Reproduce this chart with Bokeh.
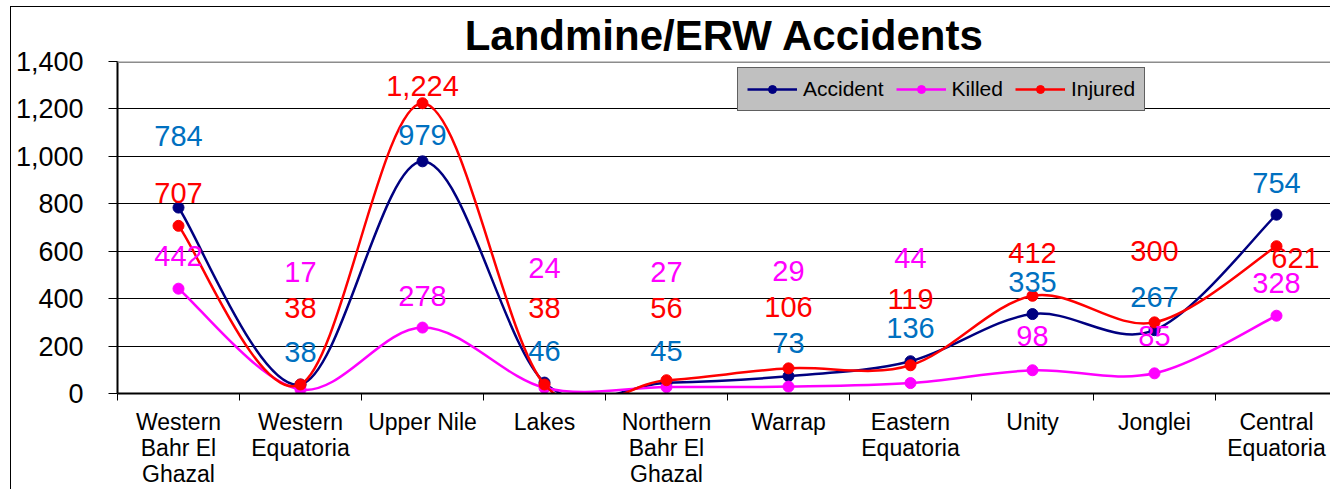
from bokeh.plotting import figure
from bokeh.models import (ColumnDataSource, Range1d, FixedTicker, Span, Legend,
                          LegendItem, NumeralTickFormatter)
from bokeh.embed import file_html
from bokeh.resources import INLINE
from bokeh.core.properties import value

# ---------------- data ----------------
categories = ["Western\nBahr El\nGhazal", "Western\nEquatoria", "Upper Nile", "Lakes",
              "Northern\nBahr El\nGhazal", "Warrap", "Eastern\nEquatoria", "Unity",
              "Jonglei", "Central\nEquatoria"]
accident = [784, 38, 979, 46, 45, 73, 136, 335, 267, 754]
killed = [442, 17, 278, 24, 27, 29, 44, 98, 85, 328]
injured = [707, 38, 1224, 38, 56, 106, 119, 412, 300, 621]
y_ticks = [0, 200, 400, 600, 800, 1000, 1200, 1400]

# label placement (screen px offsets from each point, style only)
acc_label_dy = [-72, -32, -26, -32, -32, -33, -33, -32, -33, -32]
kil_label_dy = [-33, -117, -32, -120, -115, -116, -125, -34, -37, -33]
inj_label_dy = [-33, -76, -17, -76, -72, -61, -66, -43, -71, 12]
inj_label_dx = [0, 0, 0, 0, 0, 0, 0, 0, 0, 19]

FONT = "Liberation Sans"
W, H = 1320, 483
LEFT, TOP, BOTTOM = 106, 54, 97
CAT_PX = 122.0
n = len(categories)
xs = list(range(1, n + 1))


def bezier_source(vals):
    d = dict(x0=[], y0=[], x1=[], y1=[], cx0=[], cy0=[], cx1=[], cy1=[])
    for i in range(n - 1):
        ip = max(i - 1, 0)
        i2 = min(i + 2, n - 1)
        d["x0"].append(xs[i]); d["y0"].append(vals[i])
        d["x1"].append(xs[i + 1]); d["y1"].append(vals[i + 1])
        d["cx0"].append(xs[i] + (xs[i + 1] - xs[ip]) / 6.0)
        d["cy0"].append(vals[i] + (vals[i + 1] - vals[ip]) / 6.0)
        d["cx1"].append(xs[i + 1] - (xs[i2] - xs[i]) / 6.0)
        d["cy1"].append(vals[i + 1] - (vals[i2] - vals[i]) / 6.0)
    return ColumnDataSource(d)


frame_w = W - LEFT
p = figure(width=W, height=H, output_backend="svg", toolbar_location=None,
           x_range=Range1d(0.5, 0.5 + frame_w / CAT_PX), y_range=Range1d(0, 1400),
           min_border_left=LEFT, min_border_top=TOP, min_border_bottom=BOTTOM,
           min_border_right=0)
p.styles = {"margin-left": "10px", "margin-top": "6px",
            "border-left": "1px solid #000000", "border-top": "1px solid #000000"}
p.outline_line_color = None
p.background_fill_color = "white"
p.border_fill_color = "white"

# title
p.title.text = "Landmine/ERW Accidents"
p.title.text_font = FONT
p.title.text_font_size = "42px"
p.title.text_font_style = "bold"
p.title.text_color = "black"
p.title.align = "center"
p.title.offset = 4
p.title.standoff = 5

# grid
p.xgrid.visible = False
p.ygrid.ticker = FixedTicker(ticks=y_ticks[1:-1])
p.ygrid.grid_line_color = "black"
p.ygrid.grid_line_width = 1
p.add_layout(Span(location=1400, dimension="width", line_color="#8c8c8c", line_width=3))

# x axis
xa = p.xaxis[0]
xa.ticker = FixedTicker(ticks=xs, minor_ticks=[x - 0.5 for x in xs] + [xs[-1] + 0.5])
xa.major_label_overrides = {x: c for x, c in zip(xs, categories)}
xa.major_tick_out = 0
xa.major_tick_in = 0
xa.minor_tick_out = 7
xa.minor_tick_in = 0
xa.minor_tick_line_color = "black"
xa.minor_tick_line_width = 1
xa.axis_line_color = "black"
xa.axis_line_width = 2
xa.major_label_text_font = FONT
xa.major_label_text_font_size = "23px"
xa.major_label_text_line_height = 1.0
xa.major_label_text_color = "black"
xa.major_label_standoff = 8

# y axis
ya = p.yaxis[0]
ya.ticker = FixedTicker(ticks=y_ticks)
ya.formatter = NumeralTickFormatter(format="0,0")
ya.major_tick_out = 9
ya.major_tick_in = 0
ya.minor_tick_out = 0
ya.minor_tick_in = 0
ya.major_tick_line_color = "black"
ya.axis_line_color = "black"
ya.axis_line_width = 2
ya.major_label_text_font = FONT
ya.major_label_text_font_size = "27px"
ya.major_label_text_color = "black"
ya.major_label_standoff = 25

series = [
    ("Accident", accident, "#000080", "#0070C0", acc_label_dy, [0] * n),
    ("Killed", killed, "#FF00FF", "#FF00FF", kil_label_dy, [0] * n),
    ("Injured", injured, "#FF0000", "#FF0000", inj_label_dy, inj_label_dx),
]

items = []
for name, vals, color, lcolor, dy, dx in series:
    bsrc = bezier_source(vals)
    r_line = p.bezier(x0="x0", y0="y0", x1="x1", y1="y1", cx0="cx0", cy0="cy0",
                      cx1="cx1", cy1="cy1", source=bsrc, line_color=color, line_width=2.5)
    psrc = ColumnDataSource(dict(x=xs, y=vals))
    r_pts = p.scatter(x="x", y="y", source=psrc, size=11, marker="circle",
                      fill_color=color, line_color=color)
    items.append(LegendItem(label=name, renderers=[r_line, r_pts]))

for name, vals, color, lcolor, dy, dx in series:
    psrc = ColumnDataSource(dict(x=xs, y=vals, lab=[f"{v:,}" for v in vals], dy=dy, dx=dx))
    p.text(x="x", y="y", text="lab", source=psrc, x_offset="dx", y_offset="dy",
           text_align="center", text_baseline="middle", text_color=lcolor,
           text_font=value(FONT), text_font_size="29px")

legend = Legend(items=items, orientation="horizontal", location=(620, 282))
legend.background_fill_color = "#C0C0C0"
legend.background_fill_alpha = 1.0
legend.border_line_color = "black"
legend.border_line_width = 1
legend.label_text_font = FONT
legend.label_text_font_size = "21px"
legend.label_text_color = "black"
legend.glyph_width = 50
legend.glyph_height = 20
legend.label_height = 20
legend.label_standoff = 6
legend.spacing = 12
legend.padding = 9
legend.margin = 0
p.add_layout(legend)

open("out.html", "w").write(file_html(p, INLINE))
